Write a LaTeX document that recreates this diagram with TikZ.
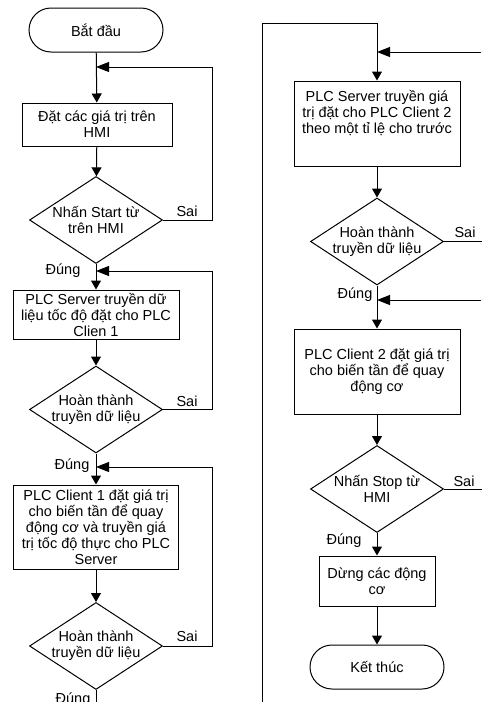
\documentclass[tikz,border=0pt]{standalone}
\usepackage{fontspec}
\setmainfont{Liberation Sans}
\usetikzlibrary{shapes.geometric,arrows.meta}
\begin{document}
\begin{tikzpicture}[x=1pt,y=-1pt,
  line/.style={draw=black,line width=1pt},
  arr/.style={line,-{Triangle[length=9pt,width=10pt]}},
  marr/.style={line,-{Triangle[length=13pt,width=10pt]}},
  txt/.style={align=center,font=\fontsize{14.5}{16}\selectfont,inner sep=0pt},
  box/.style={line,rectangle,inner sep=0pt,align=center,font=\fontsize{14.5}{16}\selectfont},
  term/.style={line,rectangle,rounded corners=22pt,minimum width=134pt,minimum height=44pt,inner sep=0pt,font=\fontsize{14.5}{16}\selectfont},
  dia/.style={line,diamond,inner sep=0pt,minimum width=133pt,minimum height=87pt},
  lbl/.style={font=\fontsize{14.5}{16}\selectfont,inner sep=0pt}]
\useasboundingbox (0,0) rectangle (482,702);
% left column
\node[term] (start) at (96,30) {Bắt đầu};
\node[box,minimum width=150pt,minimum height=43pt] (b1) at (97,124.5) {Đặt các giá trị trên\\HMI};
\node[dia] (d1) at (96,220) {};
\node[txt] (d1t) at (96,220) {Nhấn Start từ\\trên HMI};
\node[box,minimum width=166pt,minimum height=49pt] (b2) at (96,314.5) {PLC Server truyền dữ\\liệu tốc độ đặt cho PLC\\Clien 1};
\node[dia] (d2) at (96,409.5) {};
\node[txt] (d2t) at (96,409.5) {Hoàn thành\\truyền dữ liệu};
\node[box,minimum width=165pt,minimum height=84pt] (b3) at (96,527) {PLC Client 1 đặt giá trị\\cho biến tần để quay\\động cơ và truyền giá\\trị tốc độ thực cho PLC\\Server};
\node[dia] (d3) at (96,646) {};
\node[txt] (d3t) at (96,646) {Hoàn thành\\truyền dữ liệu};
\coordinate (m1) at (96,67);
\coordinate (m2) at (96,271);
\coordinate (m3) at (96,467);
\coordinate (e3) at (96,702);
\draw[arr] (start) -- (b1);
\draw[arr] (b1) -- (d1);
\draw[arr] (d1) -- (b2);
\draw[arr] (b2) -- (d2);
\draw[arr] (d2) -- (b3);
\draw[arr] (b3) -- (d3);
\draw[line] (d3) -- (e3);
\draw[marr] (d1.east) -- ++(49,0) |- (m1);
\draw[marr] (d2.east) -- ++(49,0) |- (m2);
\draw[marr] (d3.east) -- ++(49,0) |- (m3);
\node[lbl] (s1) at (187,211) {Sai};
\node[lbl] (s2) at (187,401) {Sai};
\node[lbl] (s3) at (187,636) {Sai};
\node[lbl] (t1) at (63,271) {Đúng};
\node[lbl] (t2) at (72,466) {Đúng};
\node[lbl] (t3) at (73,700) {Đúng};
% right column
\coordinate (c1) at (262,702);
\coordinate (c2) at (262,23);
\node[box,minimum width=166pt,minimum height=85pt] (b4) at (377,123.5) {};
\node[txt] (b4t) at (377,113) {PLC Server truyền giá\\trị đặt cho PLC Client 2\\theo một tỉ lệ cho trước};
\node[dia] (d4) at (377,241.5) {};
\node[txt] (d4t) at (377,241.5) {Hoàn thành\\truyền dữ liệu};
\node[box,minimum width=166pt,minimum height=85pt] (b5) at (377,371.5) {PLC Client 2 đặt giá trị\\cho biến tần để quay\\động cơ};
\node[dia] (d5) at (377,489) {};
\node[txt] (d5t) at (377,489) {Nhấn Stop từ\\HMI};
\node[box,minimum width=116pt,minimum height=50pt] (b6) at (377,581) {Dừng các động\\cơ};
\node[term] (end) at (377,667) {Kết thúc};
\coordinate (m4) at (377,52);
\coordinate (m5) at (377,300);
\coordinate (r4) at (481,52);
\coordinate (r5) at (481,300);
\draw[arr] (c1) -- (c2) -| (b4.north);
\draw[arr] (b4) -- (d4);
\draw[arr] (d4) -- (b5);
\draw[arr] (b5) -- (d5);
\draw[arr] (d5) -- (b6);
\draw[arr] (b6) -- (end);
\draw[marr] (r4) -- (m4);
\draw[marr] (r5) -- (m5);
\draw[line] (d4.east) -- ++(38,0);
\draw[line] (d5.east) -- ++(38,0);
\node[lbl] (s4) at (465,232) {Sai};
\node[lbl] (s5) at (464,481) {Sai};
\node[lbl] (t4) at (355,295) {Đúng};
\node[lbl] (t5) at (344,541) {Đúng};
\end{tikzpicture}
\end{document}
